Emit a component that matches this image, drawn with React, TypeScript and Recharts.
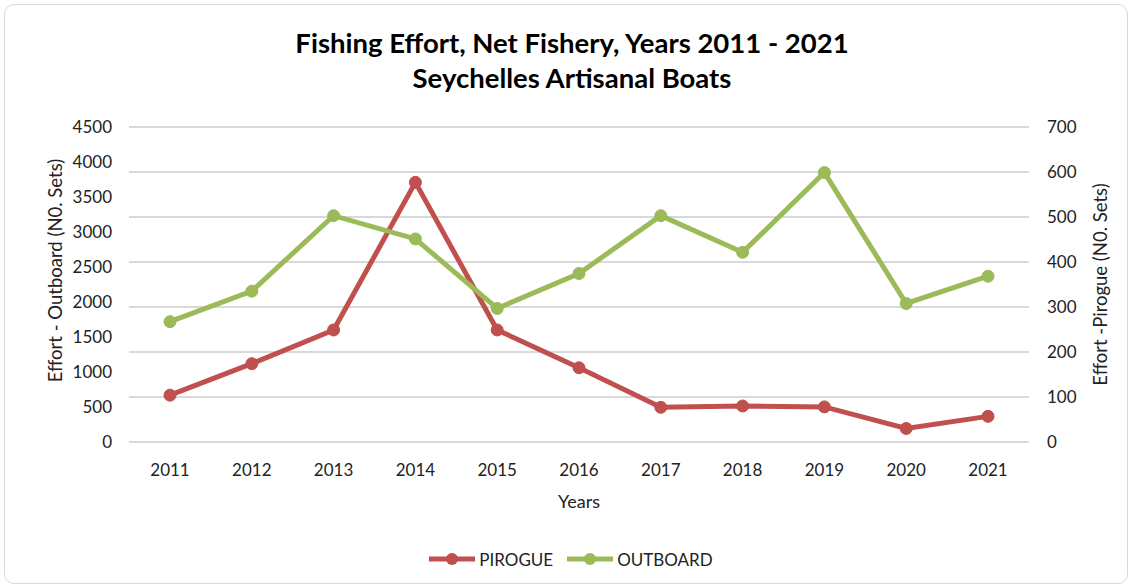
import React from 'react';
import { LineChart, Line, XAxis, YAxis, CartesianGrid, Legend } from 'recharts';

const years = ['2011', '2012', '2013', '2014', '2015', '2016', '2017', '2018', '2019', '2020', '2021'];
const pirogue = [104, 174, 249, 577, 249, 165, 77, 80, 78, 30, 57];
const outboard = [1719, 2155, 3233, 2901, 1908, 2407, 3233, 2710, 3849, 1979, 2368];
const leftTicks = [0, 500, 1000, 1500, 2000, 2500, 3000, 3500, 4000, 4500];
const rightTicks = [0, 100, 200, 300, 400, 500, 600, 700];

const RED = '#C0504D';
const GREEN = '#9BBB59';
const FONT = 'Lato, "Open Sans", sans-serif';

const data = years.map((year, i) => ({ year, PIROGUE: pirogue[i], OUTBOARD: outboard[i] }));

const LegendContent = () => {
  const items = [
    { name: 'PIROGUE', color: RED },
    { name: 'OUTBOARD', color: GREEN },
  ];
  return (
    <div style={{ display: 'flex', justifyContent: 'center', paddingLeft: 20, height: 30, alignItems: 'center' }}>
      {items.map((it) => (
        <div key={it.name} style={{ display: 'flex', alignItems: 'center', marginRight: 12 }}>
          <svg width={50} height={14}>
            <line x1={2} y1={7} x2={48} y2={7} stroke={it.color} strokeWidth={5} />
            <circle cx={25} cy={7} r={6} fill={it.color} />
          </svg>
          <span style={{ fontFamily: FONT, fontSize: 17, color: '#222', marginLeft: 2 }}>{it.name}</span>
        </div>
      ))}
    </div>
  );
};

export default function App() {
  return (
    <div style={{ position: 'absolute', left: 0, top: 0, width: 1132, height: 587, background: '#fff' }}>
      <div
        style={{
          position: 'absolute',
          left: 4,
          top: 4,
          width: 1122,
          height: 578,
          border: '1px solid #d9d9d9',
          borderRadius: 10,
        }}
      />
      <div
        style={{
          position: 'absolute',
          top: 25,
          left: 0,
          width: 1144,
          textAlign: 'center',
          fontFamily: FONT,
          fontWeight: 700,
          fontSize: 27.5,
          lineHeight: '35px',
          color: '#000',
        }}
      >
        <div>Fishing Effort, Net Fishery, Years 2011 - 2021</div>
        <div>Seychelles Artisanal Boats</div>
      </div>
      <LineChart width={1132} height={587} data={data} margin={{ top: 127, right: 0, bottom: 13, left: 0 }}>
        <CartesianGrid yAxisId="right" vertical={false} stroke="#d9d9d9" strokeWidth={2} />
        <XAxis
          dataKey="year"
          axisLine={false}
          tickLine={false}
          tickSize={0}
          tickMargin={22}
          height={102}
          padding={{ left: 41, right: 41 }}
          tick={{ fontFamily: FONT, fontSize: 17, fill: '#222' }}
          label={{ value: 'Years', position: 'insideBottom', offset: 36, style: { fontFamily: FONT, fontSize: 18, fill: '#222' } }}
        />
        <YAxis
          yAxisId="left"
          orientation="left"
          domain={[0, 4500]}
          ticks={leftTicks}
          interval={0}
          width={129}
          axisLine={false}
          tickLine={false}
          tickSize={0}
          tickMargin={17}
          tick={{ fontFamily: FONT, fontSize: 17, fill: '#222' }}
          label={{
            value: 'Effort  - Outboard (N0. Sets)',
            angle: -90,
            position: 'insideLeft',
            offset: 55,
            dy: -14,
            textAnchor: 'middle',
            style: { fontFamily: FONT, fontSize: 18.5, fill: '#222', textAnchor: 'middle' },
          }}
        />
        <YAxis
          yAxisId="right"
          orientation="right"
          domain={[0, 700]}
          ticks={rightTicks}
          interval={0}
          width={103}
          axisLine={false}
          tickLine={false}
          tickSize={0}
          tickMargin={18}
          tick={{ fontFamily: FONT, fontSize: 17, fill: '#222' }}
          label={{
            value: 'Effort -Pirogue (N0. Sets)',
            angle: -90,
            position: 'insideRight',
            offset: 32,
            textAnchor: 'middle',
            style: { fontFamily: FONT, fontSize: 18.5, fill: '#222', textAnchor: 'middle' },
          }}
        />
        <Legend verticalAlign="bottom" content={<LegendContent />} />
        <Line
          yAxisId="right"
          dataKey="PIROGUE"
          stroke={RED}
          strokeWidth={5}
          dot={{ r: 6, fill: RED, stroke: RED, strokeWidth: 1 }}
          isAnimationActive={false}
        />
        <Line
          yAxisId="left"
          dataKey="OUTBOARD"
          stroke={GREEN}
          strokeWidth={5}
          dot={{ r: 6, fill: GREEN, stroke: GREEN, strokeWidth: 1 }}
          isAnimationActive={false}
        />
      </LineChart>
    </div>
  );
}
